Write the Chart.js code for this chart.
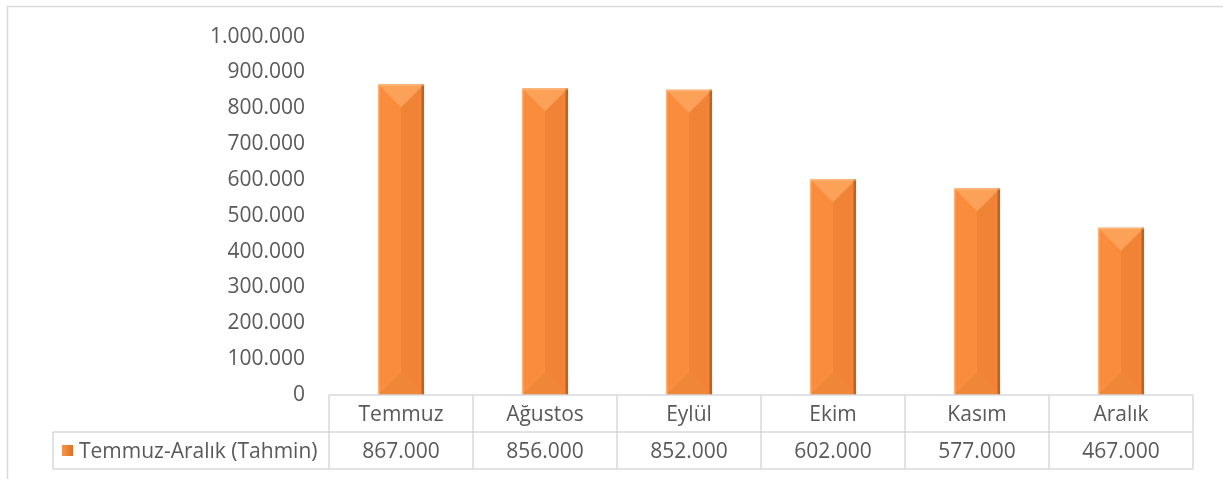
<!DOCTYPE html>
<html>
<head>
<meta charset="utf-8">
<script src="https://cdn.jsdelivr.net/npm/chart.js@4.4.1/dist/chart.umd.min.js"></script>
<style>
  body { margin: 0; background: #fff; }
</style>
</head>
<body>
<canvas id="myChart" width="1223" height="479"></canvas>
<script>
// Veriler
const months = ["Temmuz", "Ağustos", "Eylül", "Ekim", "Kasım", "Aralık"]
const seriesName = "Temmuz-Aralık (Tahmin)"
const values = [867000, 856000, 852000, 602000, 577000, 467000]
const yMin = 0
const yMax = 1000000
const yStep = 100000

const FONT = "'Open Sans', sans-serif"
const FONT_SIZE = 21
const TEXT = "#595959"
const LINE = "#D9D9D9"

const fmt = n => String(n).replace(/\B(?=(\d{3})+(?!\d))/g, ".")

// Çerçeve + veri tablosu
const tablePlugin = {
    id: "dataTable",
    beforeDraw(chart) {
        const ctx = chart.ctx
        ctx.save()
        ctx.strokeStyle = LINE
        ctx.lineWidth = 1.5
        ctx.strokeRect(7.5, 6.5, chart.width - 2, chart.height + 10)
        ctx.restore()
    },
    afterDraw(chart) {
        const ctx = chart.ctx
        const area = chart.chartArea
        const n = months.length
        const step = (area.right - area.left) / n
        const top = area.bottom
        const mid = top + 37
        const bot = mid + 37
        const legLeft = 53

        const line = (x1, y1, x2, y2) => {
            ctx.beginPath()
            ctx.moveTo(x1, y1)
            ctx.lineTo(x2, y2)
            ctx.stroke()
        }

        ctx.save()
        ctx.strokeStyle = LINE
        ctx.lineWidth = 1.5
        line(area.left, top, area.right, top)
        line(legLeft, mid, area.right, mid)
        line(legLeft, bot, area.right, bot)
        line(legLeft, mid, legLeft, bot)
        for (let i = 0; i <= n; i++) {
            const x = area.left + i * step
            line(x, top, x, bot)
        }

        ctx.fillStyle = TEXT
        ctx.font = FONT_SIZE + "px " + FONT
        ctx.textAlign = "center"
        ctx.textBaseline = "middle"
        months.forEach((m, i) => {
            const cx = chart.scales.x.getPixelForValue(i)
            ctx.fillText(m, cx, (top + mid) / 2 + 1.5)
            ctx.fillText(fmt(values[i]), cx, (mid + bot) / 2 + 1.5)
        })

        // lejant
        const g = ctx.createLinearGradient(62, 0, 73, 0)
        g.addColorStop(0, "#F99445")
        g.addColorStop(1, "#D9722A")
        ctx.fillStyle = g
        ctx.fillRect(62, 445, 11, 11)
        ctx.fillStyle = TEXT
        ctx.textAlign = "left"
        ctx.fillText(seriesName, 79, (mid + bot) / 2 + 1.5)
        ctx.restore()
    }
}

// Eğimli sütun efekti
const bevelPlugin = {
    id: "bevel",
    afterDatasetsDraw(chart) {
        const ctx = chart.ctx
        chart.getDatasetMeta(0).data.forEach(bar => {
            const w = bar.width
            const l = bar.x - w / 2
            const r = bar.x + w / 2
            const t = bar.y
            const b = bar.base
            const d = Math.min(w / 2, (b - t) / 2)
            ctx.save()
            // sağ yarı koyu
            ctx.fillStyle = "rgba(200, 90, 20, 0.18)"
            ctx.beginPath()
            ctx.moveTo(bar.x, t + d)
            ctx.lineTo(r, t)
            ctx.lineTo(r, b)
            ctx.lineTo(bar.x, b - d)
            ctx.closePath()
            ctx.fill()
            // üst üçgen
            ctx.fillStyle = "#FCA158"
            ctx.beginPath()
            ctx.moveTo(l, t)
            ctx.lineTo(r, t)
            ctx.lineTo(bar.x, t + d)
            ctx.closePath()
            ctx.fill()
            // alt üçgen
            ctx.fillStyle = "#F08738"
            ctx.beginPath()
            ctx.moveTo(l, b)
            ctx.lineTo(r, b)
            ctx.lineTo(bar.x, b - d)
            ctx.closePath()
            ctx.fill()
            // kenarlar
            ctx.fillStyle = "#B5642B"
            ctx.fillRect(r - 2.5, t, 2.5, b - t)
            ctx.fillStyle = "rgba(255, 200, 150, 0.6)"
            ctx.fillRect(l, t, 1.5, b - t)
            ctx.fillRect(l, t, w, 1.5)
            ctx.restore()
        })
    }
}

const config = {
    type: "bar",
    data: {
        labels: months,
        datasets: [{
            label: seriesName,
            data: values,
            backgroundColor: "#F98D3D",
            borderWidth: 0,
            categoryPercentage: 1,
            barPercentage: 0.32,
        }],
    },
    options: {
        responsive: false,
        animation: false,
        layout: {
            padding: { left: 0, right: 30, top: 36, bottom: 84 },
        },
        plugins: {
            legend: { display: false },
            tooltip: { enabled: false },
        },
        scales: {
            x: {
                display: false,
            },
            y: {
                min: yMin,
                max: yMax,
                border: { display: false },
                grid: { display: false, drawTicks: false },
                ticks: {
                    stepSize: yStep,
                    padding: 24,
                    color: TEXT,
                    font: { family: FONT, size: FONT_SIZE },
                    callback: v => fmt(v),
                },
                afterFit: scale => { scale.width = 329 },
            },
        },
    },
    plugins: [tablePlugin, bevelPlugin],
}

const monChart = new Chart(document.getElementById("myChart"), config)
</script>
</body>
</html>
